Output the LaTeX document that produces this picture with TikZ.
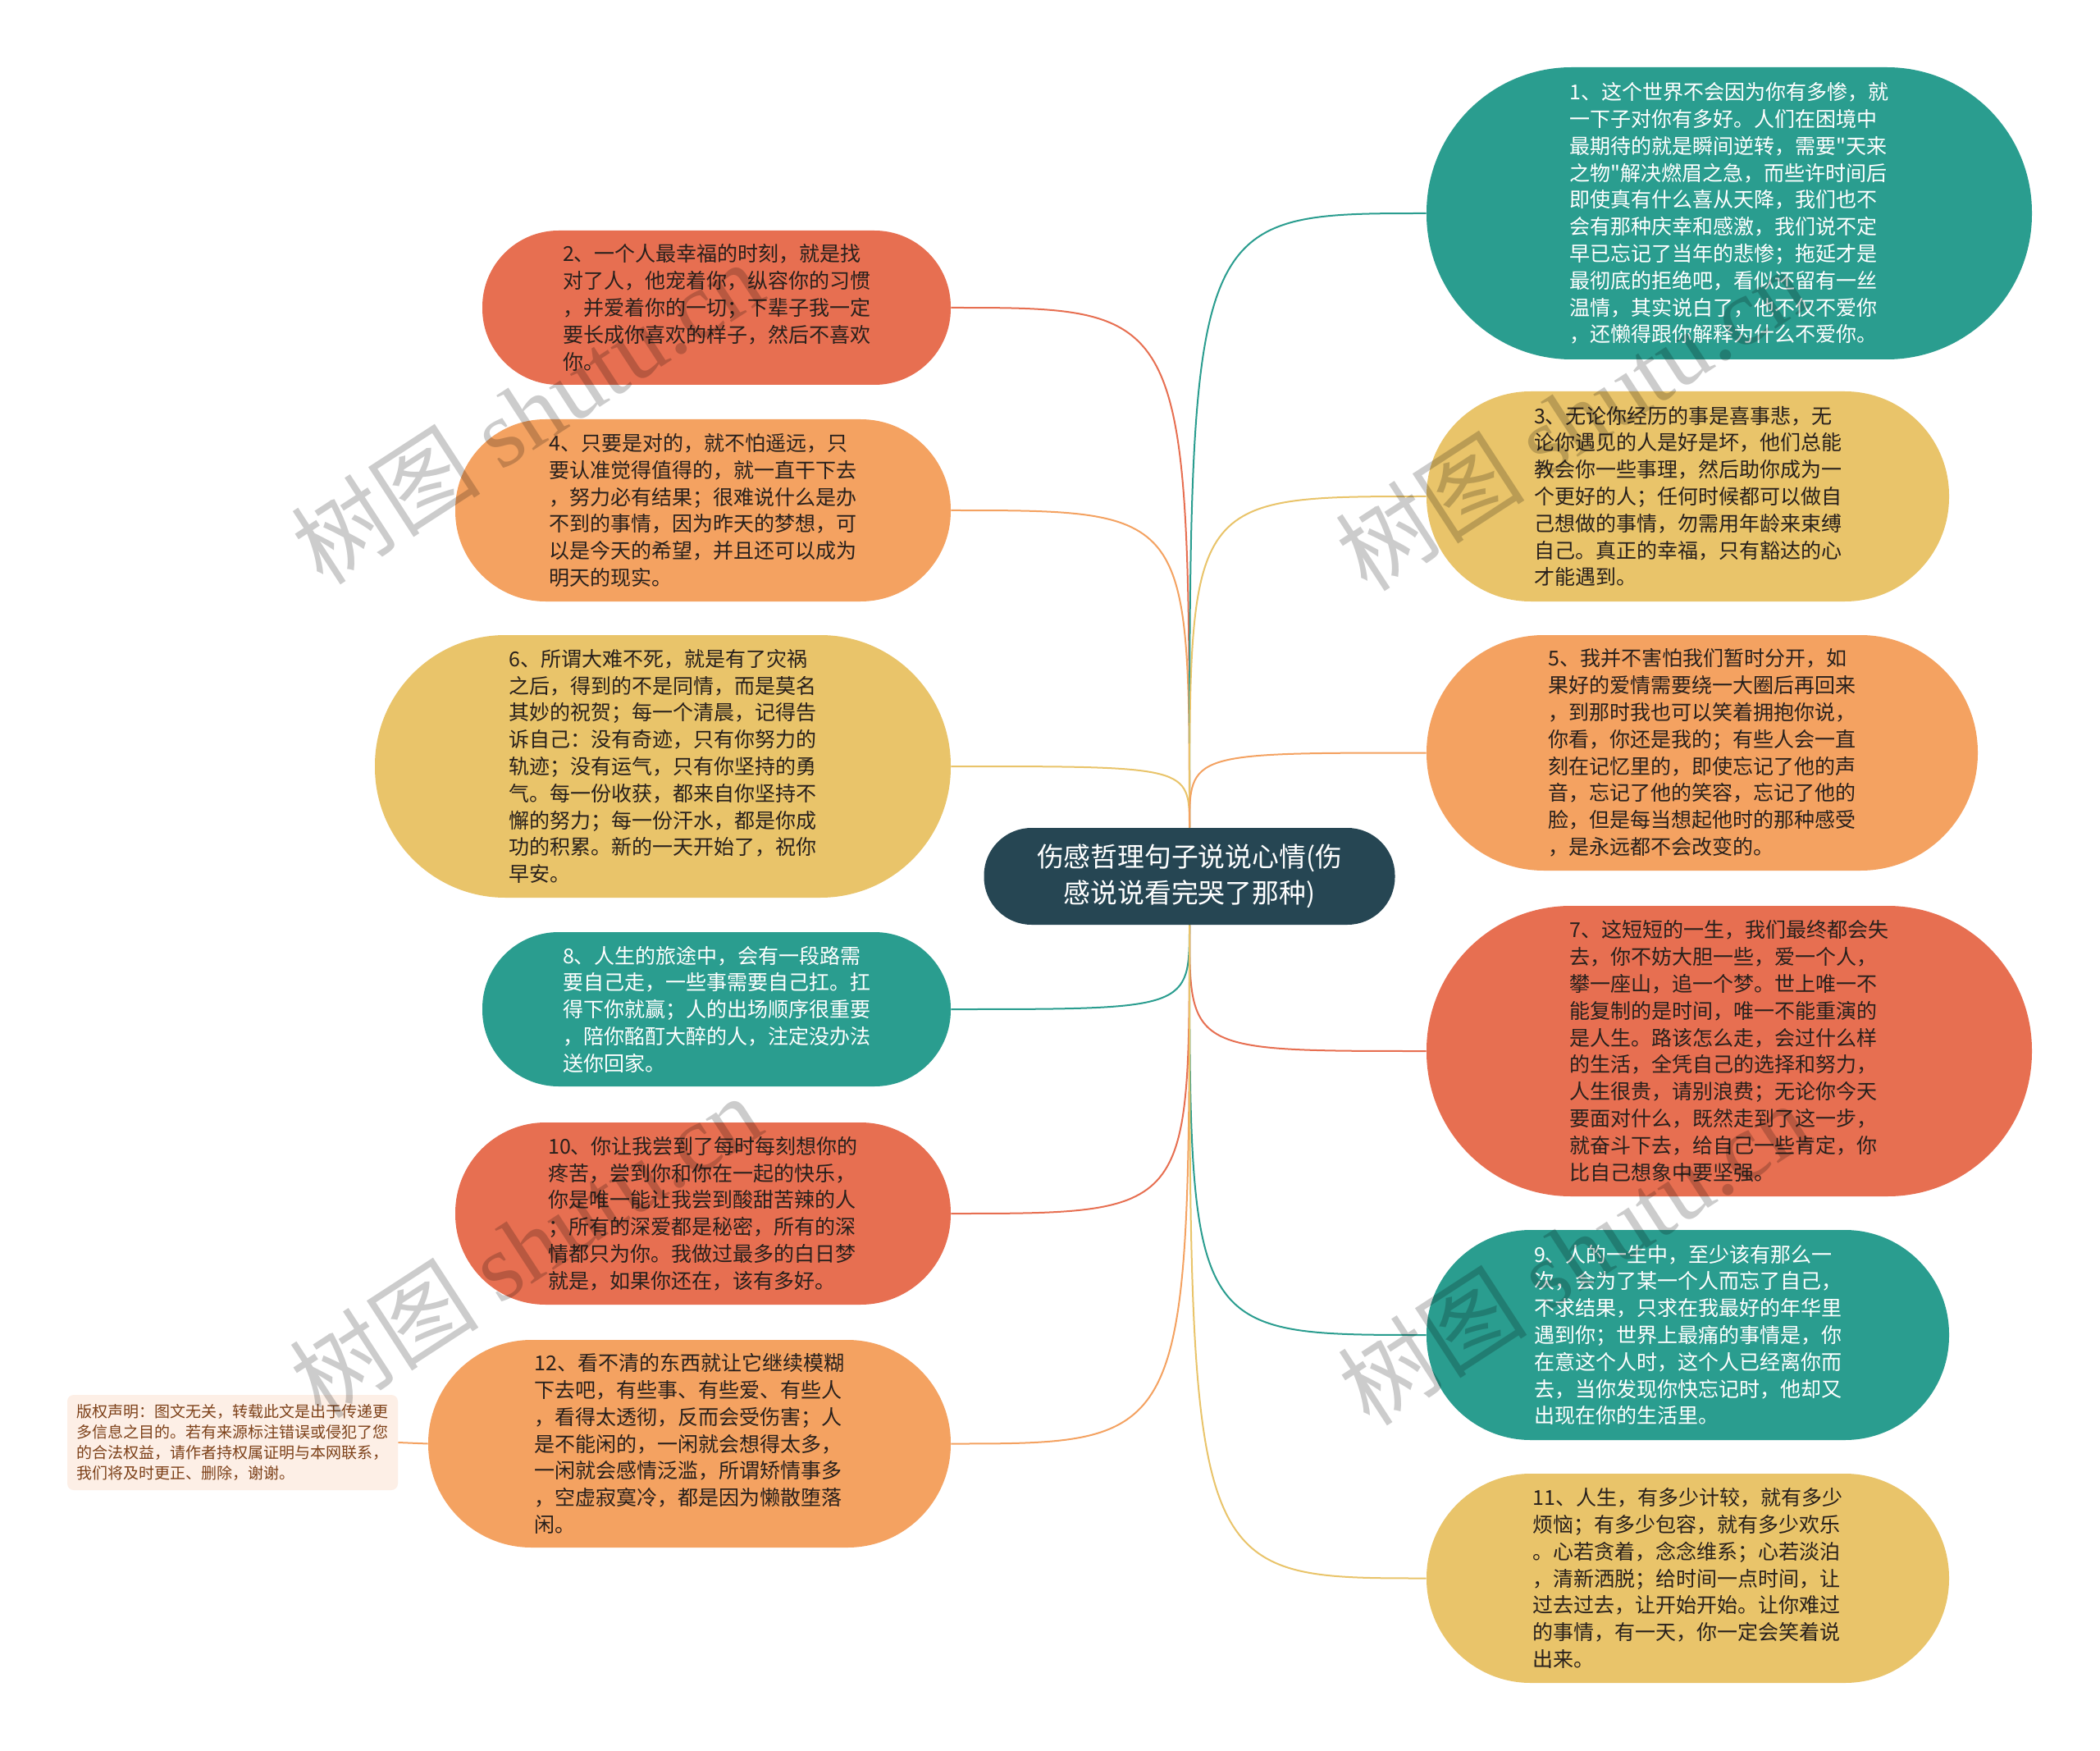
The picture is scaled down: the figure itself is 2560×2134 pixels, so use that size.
\documentclass[tikz,border=0pt]{standalone}
\usepackage{fontspec}
\newfontfamily\cjk{Noto Sans CJK SC}
\newfontfamily\wmlatin{Liberation Serif}
\usetikzlibrary{backgrounds}
\definecolor{cteal}{HTML}{2A9D8F}
\definecolor{cyellow}{HTML}{E9C46A}
\definecolor{corange}{HTML}{F4A261}
\definecolor{cred}{HTML}{E76F51}
\definecolor{cdark}{HTML}{264653}
\definecolor{ctext}{RGB}{40,32,28}
\definecolor{cnote}{HTML}{FDEFE6}
\definecolor{cnotetext}{RGB}{125,65,25}
\tikzset{
  pill/.style={shape=rectangle, inner sep=0pt, align=left, font={\cjk\fontsize{12.5}{16.4}\selectfont}},
  warm/.style={text=ctext},
  cool/.style={text=white},
  conn/.style={line width=1pt},
  wm/.style={text=black, text opacity=0.2, inner sep=0pt, font={\fontsize{58}{60}\selectfont}},
}
\begin{document}
\begin{tikzpicture}[x=0.5pt,y=-0.5pt]
\useasboundingbox (0,0) rectangle (2560,2134);

% center
\node[shape=rectangle, inner sep=0pt, align=center, fill=cdark, text=white,
  minimum width=250.5pt, minimum height=59pt, rounded corners=29pt,
  font={\cjk\fontsize{16.4}{22}\selectfont}] (c) at (1450,1068)
  {伤感哲理句子说说心情(伤\\感说说看完哭了那种)};

% left nodes
\node[pill, warm, fill=cred, minimum width=285.5pt, minimum height=94pt, rounded corners=46.5pt] (n2) at (873.5,375)
 {2、一个人最幸福的时刻，就是找\\对了人，他宠着你，纵容你的习惯\\，并爱着你的一切；下辈子我一定\\要长成你喜欢的样子，然后不喜欢\\你。};
\node[pill, warm, fill=corange, minimum width=302pt, minimum height=111pt, rounded corners=55pt] (n4) at (857,622)
 {4、只要是对的，就不怕遥远，只\\要认准觉得值得的，就一直干下去\\，努力必有结果；很难说什么是办\\不到的事情，因为昨天的梦想，可\\以是今天的希望，并且还可以成为\\明天的现实。};
\node[pill, warm, fill=cyellow, minimum width=351pt, minimum height=160pt, rounded corners=79.5pt] (n6) at (808,934)
 {6、所谓大难不死，就是有了灾祸\\之后，得到的不是同情，而是莫名\\其妙的祝贺；每一个清晨，记得告\\诉自己：没有奇迹，只有你努力的\\轨迹；没有运气，只有你坚持的勇\\气。每一份收获，都来自你坚持不\\懈的努力；每一份汗水，都是你成\\功的积累。新的一天开始了，祝你\\早安。};
\node[pill, cool, fill=cteal, minimum width=285.5pt, minimum height=94pt, rounded corners=46.5pt] (n8) at (873.5,1230)
 {8、人生的旅途中，会有一段路需\\要自己走，一些事需要自己扛。扛\\得下你就赢；人的出场顺序很重要\\，陪你酩酊大醉的人，注定没办法\\送你回家。};
\node[pill, warm, fill=cred, minimum width=302pt, minimum height=111pt, rounded corners=55pt] (n10) at (857,1479)
 {10、你让我尝到了每时每刻想你的\\疼苦，尝到你和你在一起的快乐，\\你是唯一能让我尝到酸甜苦辣的人\\；所有的深爱都是秘密，所有的深\\情都只为你。我做过最多的白日梦\\就是，如果你还在，该有多好。};
\node[pill, warm, fill=corange, minimum width=318.5pt, minimum height=126.5pt, rounded corners=63pt] (n12) at (840.5,1759.5)
 {12、看不清的东西就让它继续模糊\\下去吧，有些事、有些爱、有些人\\，看得太透彻，反而会受伤害；人\\是不能闲的，一闲就会想得太多，\\一闲就会感情泛滥，所谓矫情事多\\，空虚寂寞冷，都是因为懒散堕落\\闲。};

% right nodes
\node[pill, cool, fill=cteal, minimum width=369pt, minimum height=178pt, rounded corners=88.5pt] (n1) at (2108,260)
 {1、这个世界不会因为你有多惨，就\\一下子对你有多好。人们在困境中\\最期待的就是瞬间逆转，需要"天来\\之物"解决燃眉之急，而些许时间后\\即使真有什么喜从天降，我们也不\\会有那种庆幸和感激，我们说不定\\早已忘记了当年的悲惨；拖延才是\\最彻底的拒绝吧，看似还留有一丝\\温情，其实说白了，他不仅不爱你\\，还懒得跟你解释为什么不爱你。};
\node[pill, warm, fill=cyellow, minimum width=318.5pt, minimum height=128pt, rounded corners=63.5pt] (n3) at (2057.5,605)
 {3、无论你经历的事是喜事悲，无\\论你遇见的人是好是坏，他们总能\\教会你一些事理，然后助你成为一\\个更好的人；任何时候都可以做自\\己想做的事情，勿需用年龄来束缚\\自己。真正的幸福，只有豁达的心\\才能遇到。};
\node[pill, warm, fill=corange, minimum width=336pt, minimum height=143.5pt, rounded corners=71.5pt] (n5) at (2075,917.5)
 {5、我并不害怕我们暂时分开，如\\果好的爱情需要绕一大圈后再回来\\，到那时我也可以笑着拥抱你说，\\你看，你还是我的；有些人会一直\\刻在记忆里的，即使忘记了他的声\\音，忘记了他的笑容，忘记了他的\\脸，但是每当想起他时的那种感受\\，是永远都不会改变的。};
\node[pill, warm, fill=cred, minimum width=369pt, minimum height=177pt, rounded corners=88pt] (n7) at (2108,1281)
 {7、这短短的一生，我们最终都会失\\去，你不妨大胆一些，爱一个人，\\攀一座山，追一个梦。世上唯一不\\能复制的是时间，唯一不能重演的\\是人生。路该怎么走，会过什么样\\的生活，全凭自己的选择和努力，\\人生很贵，请别浪费；无论你今天\\要面对什么，既然走到了这一步，\\就奋斗下去，给自己一些肯定，你\\比自己想象中要坚强。};
\node[pill, cool, fill=cteal, minimum width=318.5pt, minimum height=128pt, rounded corners=63.5pt] (n9) at (2057.5,1627)
 {9、人的一生中，至少该有那么一\\次，会为了某一个人而忘了自己，\\不求结果，只求在我最好的年华里\\遇到你；世界上最痛的事情是，你\\在意这个人时，这个人已经离你而\\去，当你发现你快忘记时，他却又\\出现在你的生活里。};
\node[pill, warm, fill=cyellow, minimum width=318.5pt, minimum height=127.5pt, rounded corners=63.5pt] (n11) at (2057.5,1923.5)
 {11、人生，有多少计较，就有多少\\烦恼；有多少包容，就有多少欢乐\\。心若贪着，念念维系；心若淡泊\\，清新洒脱；给时间一点时间，让\\过去过去，让开始开始。让你难过\\的事情，有一天，你一定会笑着说\\出来。};

% copyright note
\node[shape=rectangle, inner sep=0pt, align=left, fill=cnote, text=cnotetext,
  minimum width=201.5pt, minimum height=58pt, rounded corners=4pt,
  font={\cjk\fontsize{9.5}{12.6}\selectfont}] (note) at (283.5,1758)
 {版权声明：图文无关，转载此文是出于传递更\\多信息之目的。若有来源标注错误或侵犯了您\\的合法权益，请作者持权属证明与本网联系，\\我们将及时更正、删除，谢谢。};

\begin{scope}[on background layer]
\fill[white] (0,0) rectangle (2560,2134);
\foreach \n/\col in {n2/cred, n4/corange, n6/cyellow}
  \draw[conn, \col] (c.north) .. controls (c.north |- \n.east) .. (\n.east);
\foreach \n/\col in {n8/cteal, n10/cred, n12/corange}
  \draw[conn, \col] (c.south) .. controls (c.south |- \n.east) .. (\n.east);
\foreach \n/\col in {n1/cteal, n3/cyellow, n5/corange}
  \draw[conn, \col] (c.north) .. controls (c.north |- \n.west) .. (\n.west);
\foreach \n/\col in {n7/cred, n9/cteal, n11/cyellow}
  \draw[conn, \col] (c.south) .. controls (c.south |- \n.west) .. (\n.west);
\draw[conn, corange] (n12.west) -- (note.east);
\end{scope}

% watermarks
\node[wm, rotate=33] (w1) at (642,502) {\cjk 树图 \wmlatin shutu.cn};
\node[wm, rotate=33] (w2) at (1915,510) {\cjk 树图 \wmlatin shutu.cn};
\node[wm, rotate=33] (w3) at (640,1518) {\cjk 树图 \wmlatin shutu.cn};
\node[wm, rotate=33] (w4) at (1918,1527) {\cjk 树图 \wmlatin shutu.cn};
\end{tikzpicture}
\end{document}
